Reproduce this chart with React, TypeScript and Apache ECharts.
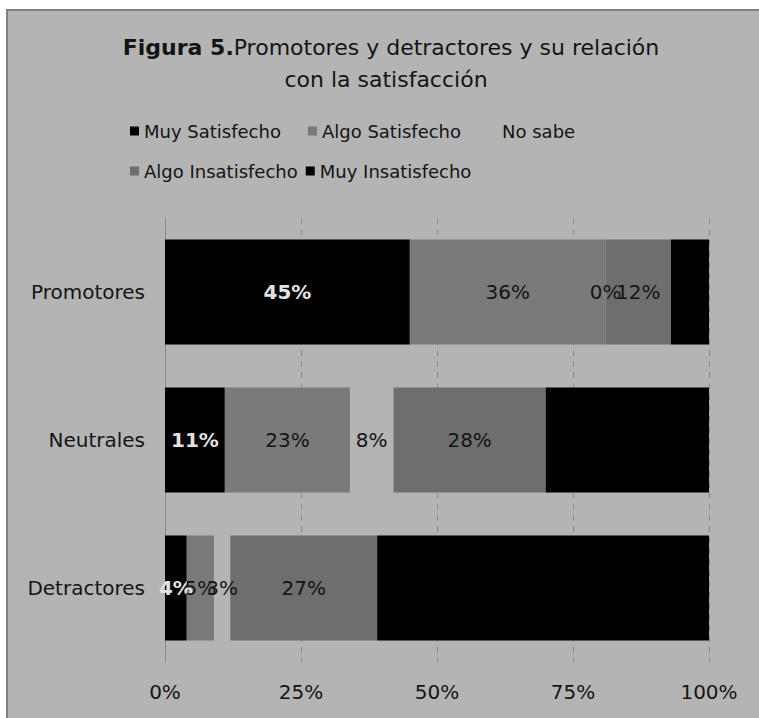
import React, { useEffect, useRef } from "react";
import * as echarts from "echarts";

const categories = ["Promotores", "Neutrales", "Detractores"];
const seriesNames = [
  "Muy Satisfecho",
  "Algo Satisfecho",
  "No sabe",
  "Algo Insatisfecho",
  "Muy Insatisfecho",
];
const muySatisfecho = [45, 11, 4];
const algoSatisfecho = [36, 23, 5];
const noSabe = [0, 8, 3];
const algoInsatisfecho = [12, 28, 27];
const muyInsatisfecho = [7, 30, 61];
const xTicks = [0, 25, 50, 75, 100];

const FONT = "DejaVu Sans";
const BG = "#b4b4b4";
const INK = "#141414";

export default function App() {
  const ref = useRef<HTMLDivElement>(null);

  useEffect(() => {
    if (!ref.current) return;
    const chart = echarts.init(ref.current, undefined, { renderer: "svg" });

    const values = [muySatisfecho, algoSatisfecho, noSabe, algoInsatisfecho, muyInsatisfecho];
    const colors = ["#000000", "#7a7a7a", BG, "#6e6e6e", "#000000"];
    const labelColors = ["#e2e2e2", INK, INK, INK, INK];

    const series = seriesNames.map((name, i) => ({
      name,
      type: "bar",
      stack: "total",
      barWidth: "71%",
      data: values[i],
      itemStyle: { color: colors[i] },
      label: {
        show: i < 4,
        position: "inside",
        formatter: (p: any) => `${p.value}%`,
        color: labelColors[i],
        fontFamily: FONT,
        fontSize: 20,
        fontWeight: i === 0 ? "bold" : "normal",
      },
      emphasis: { disabled: true },
    }));

    const legendCommon = {
      icon: "rect",
      itemWidth: 9,
      itemHeight: 9,
      selectedMode: false,
      textStyle: { fontFamily: FONT, fontSize: 18, color: INK },
      padding: 0,
    };

    chart.setOption({
      animation: false,
      backgroundColor: "transparent",
      graphic: [
        {
          type: "rect",
          z: -10,
          shape: { x: 7, y: 10, width: 780, height: 740 },
          style: { fill: BG, stroke: "#7f7f7f", lineWidth: 2 },
          silent: true,
        },
        {
          type: "text",
          x: 391,
          y: 47,
          style: {
            text: "{b|Figura 5.}{n|Promotores y detractores y su relación}",
            align: "center",
            verticalAlign: "middle",
            rich: {
              b: { fontFamily: FONT, fontSize: 22, fontWeight: "bold", fill: INK },
              n: { fontFamily: FONT, fontSize: 22, fill: INK },
            },
          },
        },
        {
          type: "text",
          x: 386,
          y: 79,
          style: {
            text: "con la satisfacción",
            align: "center",
            verticalAlign: "middle",
            fontFamily: FONT,
            fontSize: 22,
            fill: INK,
          },
        },
      ],
      legend: [
        {
          ...legendCommon,
          data: seriesNames.slice(0, 3),
          left: 130,
          top: 122,
          itemGap: 27,
        },
        {
          ...legendCommon,
          data: seriesNames.slice(3),
          left: 130,
          top: 162,
          itemGap: 8,
        },
      ],
      grid: { left: 165, right: 50, top: 218, bottom: 56, containLabel: false },
      xAxis: {
        type: "value",
        min: xTicks[0],
        max: xTicks[xTicks.length - 1],
        interval: xTicks[1] - xTicks[0],
        axisLine: { show: false },
        axisTick: { show: false },
        axisLabel: {
          formatter: "{value}%",
          fontFamily: FONT,
          fontSize: 20,
          color: INK,
          margin: 20,
        },
        splitLine: { show: true, lineStyle: { color: "#8a8a8a", type: [6, 5], width: 1 } },
      },
      yAxis: {
        type: "category",
        inverse: true,
        data: categories,
        axisLine: { show: true, lineStyle: { color: "#8a8a8a", width: 1 } },
        axisTick: { show: false },
        axisLabel: {
          fontFamily: FONT,
          fontSize: 20,
          color: INK,
          margin: 20,
        },
      },
      series,
    });

    return () => chart.dispose();
  }, []);

  return (
    <div
      style={{ position: "absolute", left: 0, top: 0, width: 759, height: 718, background: "#fff" }}
    >
      <div ref={ref} style={{ width: 759, height: 718 }} />
    </div>
  );
}
